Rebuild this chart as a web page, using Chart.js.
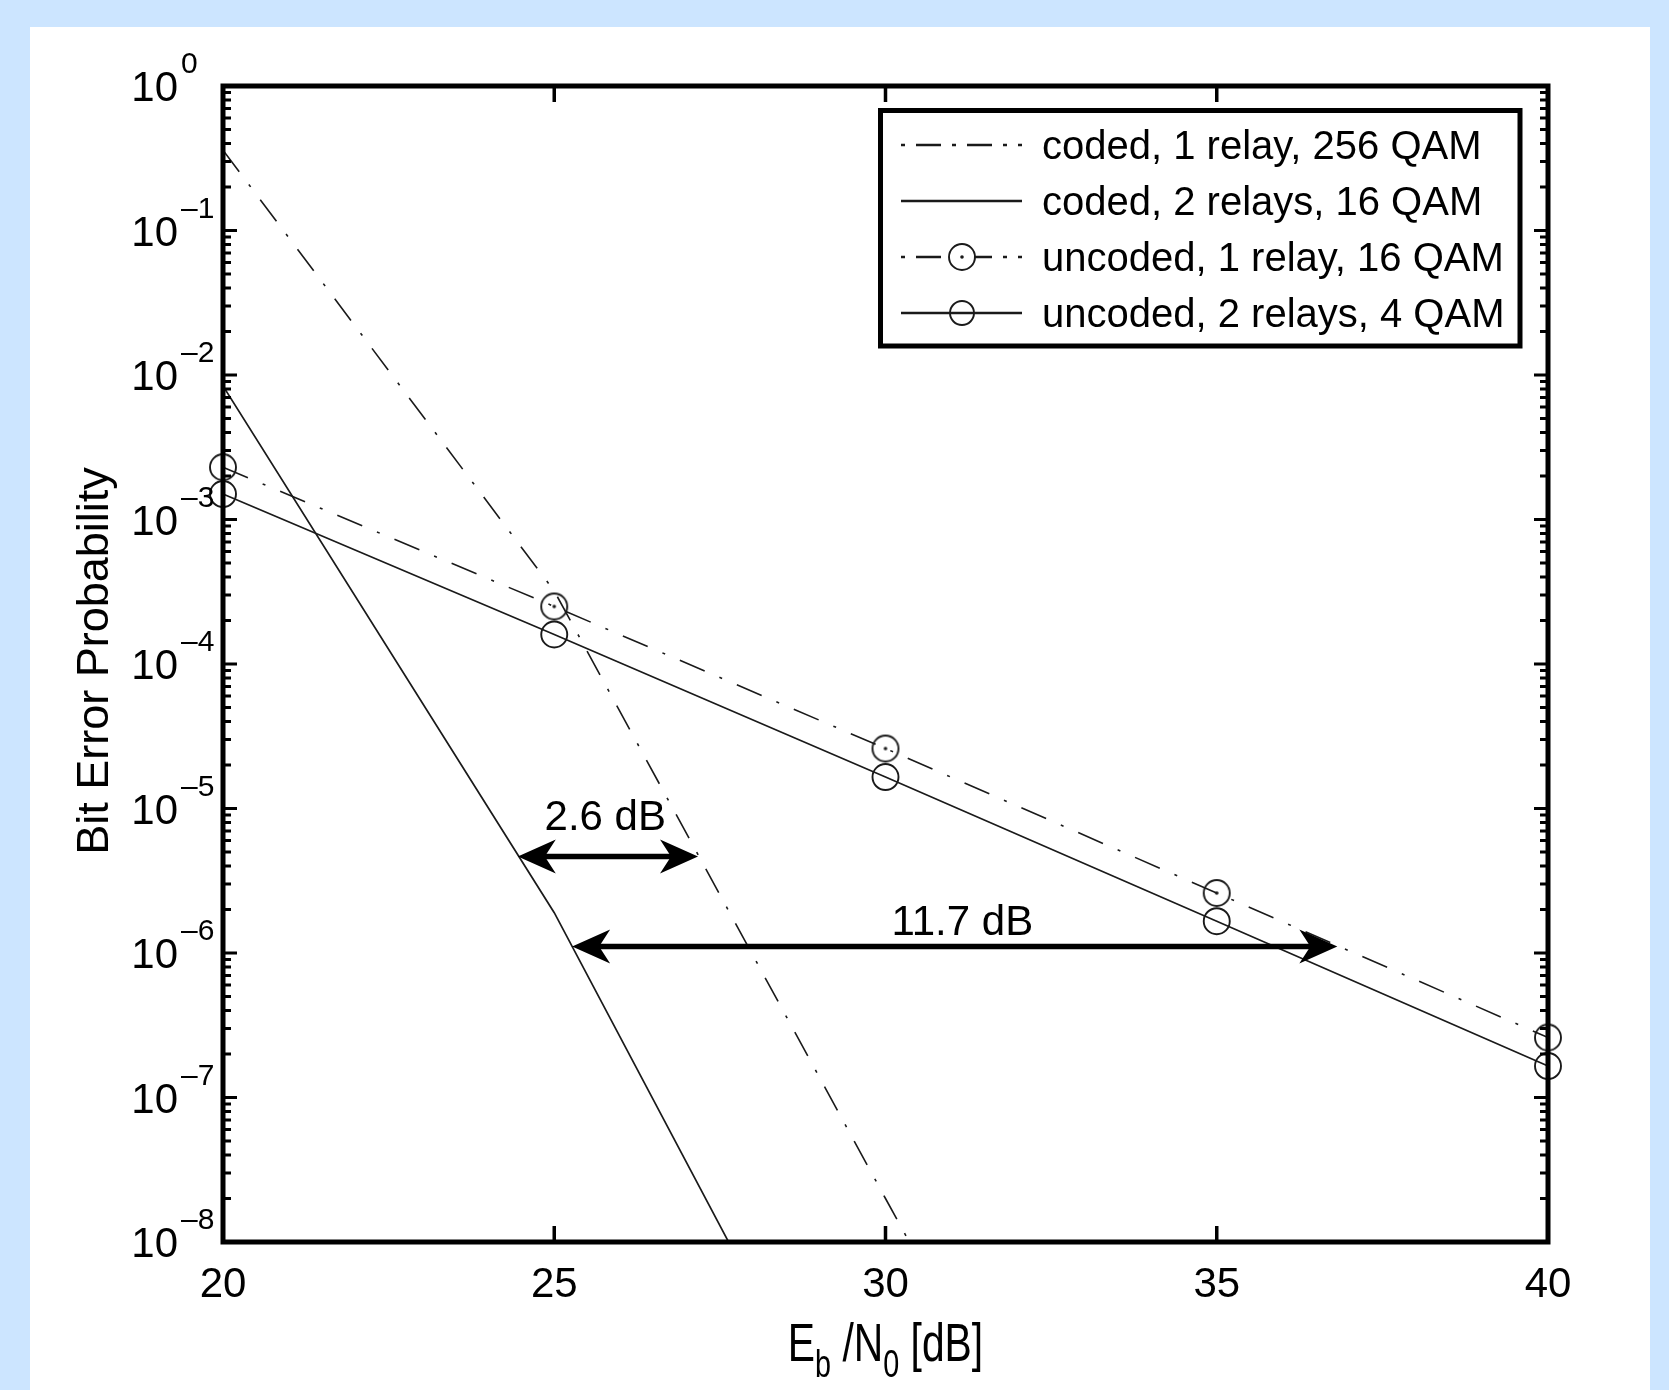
<!DOCTYPE html>
<html>
<head>
<meta charset="utf-8">
<script src="https://cdn.jsdelivr.net/npm/chart.js@4/dist/chart.umd.min.js"></script>
<style>
html,body{margin:0;padding:0;background:#cce5ff;overflow:hidden}
canvas{display:block}
</style>
</head>
<body>
<canvas id="c" width="1669" height="1390"></canvas>
<script>
// ---------------- data ----------------
const snr = [20, 25, 30, 35, 40];
const coded1RelaySnr = [20, 25, 30, 35];
const coded1Relay256 = [0.36, 3.2e-4, 2.0e-8, 1.3e-12];
const coded2RelaysSnr = [20, 25, 30];
const coded2Relays16 = [8.4e-3, 1.9e-6, 8.9e-11];
const uncoded1Relay16 = [2.3e-3, 2.5e-4, 2.6e-5, 2.6e-6, 2.6e-7];
const uncoded2Relays4 = [1.5e-3, 1.6e-4, 1.65e-5, 1.66e-6, 1.65e-7];
const seriesNames = ['coded, 1 relay, 256 QAM', 'coded, 2 relays, 16 QAM', 'uncoded, 1 relay, 16 QAM', 'uncoded, 2 relays, 4 QAM'];
const xTicks = [20, 25, 30, 35, 40];
const yTickExponents = [0, -1, -2, -3, -4, -5, -6, -7, -8];
const xTitleParts = ['E', 'b', ' /N', '0', ' [dB]'];
const yTitle = 'Bit Error Probability';
const gapLabels = ['2.6 dB', '11.7 dB'];
const gapFrom = [24.45, 25.27];
const gapTo = [27.17, 36.82];
const gapLevel = [4.66e-6, 1.11e-6];
const gapLabelX = [25.77, 31.16];
const gapLabelY = [7.1e-6, 1.33e-6];

// ---------------- styles ----------------
const FONT = "'Liberation Sans', Arial, Helvetica, sans-serif";
const INK = '#1a1a1a';
const DASHDOT = [27, 16, 3, 16];

function dotCircleImg() {
  const c = document.createElement('canvas');
  c.width = 32; c.height = 32;
  const g = c.getContext('2d');
  g.strokeStyle = INK; g.lineWidth = 1.9;
  g.beginPath(); g.arc(16, 16, 13, 0, 2 * Math.PI); g.stroke();
  g.fillStyle = INK;
  g.beginPath(); g.arc(16, 16, 1.8, 0, 2 * Math.PI); g.fill();
  return c;
}
const dotImg = dotCircleImg();

const pts = (xs, ys) => xs.map((x, i) => ({x: x, y: ys[i]}));

const datasets = [
  {label: seriesNames[0], data: pts(coded1RelaySnr, coded1Relay256), borderColor: INK, borderWidth: 1.6, borderDash: DASHDOT, pointRadius: 0},
  {label: seriesNames[1], data: pts(coded2RelaysSnr, coded2Relays16), borderColor: INK, borderWidth: 1.7, pointRadius: 0},
  {label: seriesNames[2], data: pts(snr, uncoded1Relay16), borderColor: INK, borderWidth: 1.6, borderDash: DASHDOT, pointStyle: dotImg, pointRadius: 13, clip: false},
  {label: seriesNames[3], data: pts(snr, uncoded2Relays4), borderColor: INK, borderWidth: 1.7, pointStyle: 'circle', pointRadius: 13, pointBorderWidth: 1.9, pointBorderColor: INK, pointBackgroundColor: 'rgba(0,0,0,0)', clip: false}
];

function arrowHead(ctx, tipX, y, dir) {
  const L = 38, H = 17, N = 27;
  ctx.beginPath();
  ctx.moveTo(tipX, y);
  ctx.lineTo(tipX - dir * L, y - H);
  ctx.lineTo(tipX - dir * N, y);
  ctx.lineTo(tipX - dir * L, y + H);
  ctx.closePath();
  ctx.fill();
}

const decor = {
  id: 'decor',
  beforeDraw(chart) {
    const ctx = chart.ctx;
    ctx.save();
    ctx.fillStyle = '#cce5ff';
    ctx.fillRect(0, 0, chart.width, chart.height);
    ctx.fillStyle = '#ffffff';
    ctx.fillRect(30, 27, 1620, 1363);
    ctx.restore();
  },
  afterDraw(chart) {
    const ctx = chart.ctx;
    const ca = chart.chartArea;
    const xs = chart.scales.x, ys = chart.scales.y;
    ctx.save();
    ctx.fillStyle = '#000'; ctx.strokeStyle = '#000';

    // minor / major ticks on y (left & right, inward)
    ctx.lineWidth = 3;
    for (let e = -8; e <= 0; e++) {
      const yp = ys.getPixelForValue(Math.pow(10, e));
      ctx.beginPath();
      ctx.moveTo(ca.left, yp); ctx.lineTo(ca.left + 14, yp);
      ctx.moveTo(ca.right, yp); ctx.lineTo(ca.right - 14, yp);
      ctx.stroke();
      if (e < 0) {
        for (let m = 2; m <= 9; m++) {
          const yv = ys.getPixelForValue(m * Math.pow(10, e));
          ctx.beginPath();
          ctx.moveTo(ca.left, yv); ctx.lineTo(ca.left + 8, yv);
          ctx.moveTo(ca.right, yv); ctx.lineTo(ca.right - 8, yv);
          ctx.stroke();
        }
      }
    }
    // x ticks (top & bottom, inward)
    ctx.lineWidth = 3.5;
    xTicks.forEach(t => {
      const xp = xs.getPixelForValue(t);
      ctx.beginPath();
      ctx.moveTo(xp, ca.bottom); ctx.lineTo(xp, ca.bottom - 16);
      ctx.moveTo(xp, ca.top); ctx.lineTo(xp, ca.top + 16);
      ctx.stroke();
    });

    // frame
    ctx.lineWidth = 5;
    ctx.strokeRect(ca.left, ca.top, ca.right - ca.left, ca.bottom - ca.top);

    // x tick labels
    ctx.font = '42px ' + FONT;
    ctx.textAlign = 'center'; ctx.textBaseline = 'alphabetic';
    xTicks.forEach(t => {
      ctx.fillText(String(t), xs.getPixelForValue(t), ca.bottom + 55);
    });

    // y tick labels 10^e
    yTickExponents.forEach(e => {
      const yp = ys.getPixelForValue(Math.pow(10, e));
      ctx.font = '42px ' + FONT;
      ctx.textAlign = 'right';
      ctx.fillText('10', ca.left - 45, yp + 15);
      ctx.font = '30px ' + FONT;
      ctx.textAlign = 'left';
      ctx.fillText(e === 0 ? '0' : '\u2013' + String(-e), ca.left - 42, yp - 13);
    });

    // y title
    ctx.save();
    ctx.translate(108, (ca.top + ca.bottom) / 2 - 3);
    ctx.rotate(-Math.PI / 2);
    ctx.font = '45px ' + FONT;
    ctx.textAlign = 'center';
    ctx.fillText(yTitle, 0, 0);
    ctx.restore();

    // x title with subscripts
    const mainF = '54px ' + FONT, subF = '38px ' + FONT;
    const isSub = [false, true, false, true, false];
    let total = 0;
    const widths = xTitleParts.map((p, i) => { ctx.font = isSub[i] ? subF : mainF; const w = ctx.measureText(p).width; total += w; return w; });
    const hs = 0.756;
    ctx.save();
    ctx.translate((ca.left + ca.right) / 2 - total * hs / 2, 0);
    ctx.scale(hs, 1);
    ctx.textAlign = 'left';
    let cx = 0;
    xTitleParts.forEach((p, i) => {
      ctx.font = isSub[i] ? subF : mainF;
      ctx.fillText(p, cx, isSub[i] ? ca.bottom + 135 : ca.bottom + 119);
      cx += widths[i];
    });
    ctx.restore();

    // gap arrows
    gapLabels.forEach((lab, i) => {
      const y = ys.getPixelForValue(gapLevel[i]);
      const x1 = xs.getPixelForValue(gapFrom[i]);
      const x2 = xs.getPixelForValue(gapTo[i]);
      ctx.lineWidth = 5.5;
      ctx.beginPath(); ctx.moveTo(x1 + 20, y); ctx.lineTo(x2 - 20, y); ctx.stroke();
      arrowHead(ctx, x1, y, -1);
      arrowHead(ctx, x2, y, 1);
      ctx.font = '42px ' + FONT;
      ctx.textAlign = 'center';
      ctx.fillText(lab, xs.getPixelForValue(gapLabelX[i]), ys.getPixelForValue(gapLabelY[i]));
    });

    // legend
    const bx0 = 880.5, by0 = 110.5, bx1 = 1520, by1 = 346;
    ctx.fillStyle = '#fff';
    ctx.fillRect(bx0, by0, bx1 - bx0, by1 - by0);
    ctx.fillStyle = '#000';
    ctx.lineWidth = 5;
    ctx.strokeRect(bx0, by0, bx1 - bx0, by1 - by0);
    const rows = [145, 201, 257, 313];
    const sx0 = 901, sx1 = 1022, mx = 962;
    chart.data.datasets.forEach((ds, i) => {
      const ry = rows[i];
      ctx.save();
      ctx.strokeStyle = INK;
      ctx.lineWidth = 2.6;
      ctx.setLineDash(ds.borderDash && ds.borderDash.length ? [4, 11, 25, 11] : []);
      ctx.beginPath(); ctx.moveTo(sx0, ry); ctx.lineTo(sx1, ry); ctx.stroke();
      ctx.setLineDash([]);
      if (ds.pointRadius) {
        if (ds.pointStyle === 'circle') {
          ctx.lineWidth = 1.9;
          ctx.beginPath(); ctx.arc(mx, ry, 12, 0, 2 * Math.PI); ctx.stroke();
        } else {
          ctx.fillStyle = '#fff';
          ctx.beginPath(); ctx.arc(mx, ry, 12, 0, 2 * Math.PI); ctx.fill();
          ctx.drawImage(ds.pointStyle, mx - 16, ry - 16);
        }
      }
      ctx.restore();
      ctx.font = '40px ' + FONT;
      ctx.textAlign = 'left';
      ctx.fillStyle = '#000';
      ctx.fillText(ds.label, 1042, ry + 14);
    });
    ctx.restore();
  }
};

new Chart(document.getElementById('c'), {
  type: 'line',
  data: {datasets: datasets},
  options: {
    responsive: false,
    animation: false,
    devicePixelRatio: 1,
    layout: {padding: {left: 223, right: 121, top: 86, bottom: 148}},
    plugins: {legend: {display: false}, tooltip: {enabled: false}},
    elements: {line: {tension: 0, fill: false}},
    scales: {
      x: {type: 'linear', min: 20, max: 40, display: false},
      y: {type: 'logarithmic', min: 1e-8, max: 1, display: false}
    }
  },
  plugins: [decor]
});
</script>
</body>
</html>
